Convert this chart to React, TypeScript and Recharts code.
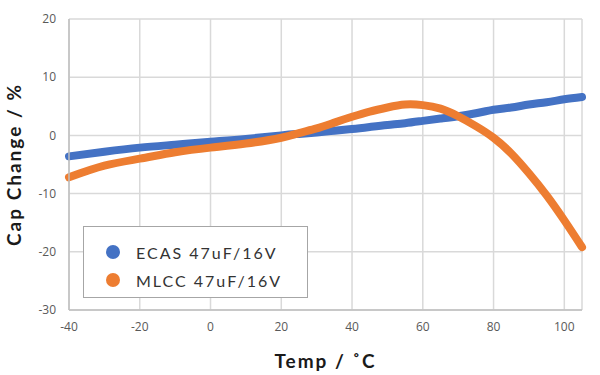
import { CartesianGrid, Legend, Line, LineChart, XAxis, YAxis } from 'recharts';

const temps = [-40, -30, -20, -10, 0, 10, 20, 25, 30, 35, 40, 45, 50, 55, 60, 65, 70, 75, 80, 85, 90, 95, 100, 105];
const ecas = [-3.6, -2.8, -2.1, -1.6, -1.1, -0.6, 0.0, 0.25, 0.5, 0.8, 1.1, 1.45, 1.8, 2.1, 2.5, 2.9, 3.3, 3.8, 4.4, 4.8, 5.3, 5.7, 6.2, 6.6];
const mlcc = [-7.2, -5.2, -4.0, -2.9, -2.1, -1.4, -0.4, 0.4, 1.2, 2.2, 3.2, 4.1, 4.8, 5.3, 5.2, 4.6, 3.3, 1.6, -0.4, -3.1, -6.5, -10.3, -14.6, -19.2];
const xTicks = [-40, -20, 0, 20, 40, 60, 80, 100];
const yTicks = [-30, -20, -10, 0, 10, 20];
const seriesNames = ['ECAS 47uF/16V', 'MLCC 47uF/16V'];
const colors = ['#4472c4', '#ed7d31'];

const data = temps.map((t, i) => ({ temp: t, ecas: ecas[i], mlcc: mlcc[i] }));

const tickStyle = { fill: '#595959', fontSize: 12, fontFamily: '"Open Sans", sans-serif' };
const titleStyle = { fill: '#1a1a1a', fontSize: 19, fontWeight: 700, fontFamily: 'Lato, sans-serif', letterSpacing: 2 };

function renderLegend() {
  return (
    <div
      style={{
        boxSizing: 'border-box',
        width: 225,
        height: 72,
        border: '1px solid #a6a6a6',
        background: '#fff',
        paddingTop: 11,
        paddingLeft: 22,
      }}
    >
      {seriesNames.map((name, i) => (
        <div key={name} style={{ display: 'flex', alignItems: 'center', height: 28 }}>
          <span
            style={{ width: 14, height: 14, borderRadius: 7, background: colors[i], display: 'inline-block', marginRight: 16 }}
          />
          <span style={{ fontFamily: 'Lato, sans-serif', fontSize: 16, letterSpacing: 2, color: '#333' }}>{name}</span>
        </div>
      ))}
    </div>
  );
}

export default function App() {
  return (
    <div style={{ position: 'absolute', left: 0, top: 0, width: 600, height: 375, background: '#fff' }}>
      <LineChart width={600} height={375} data={data} margin={{ top: 19, right: 18, left: 0, bottom: 0 }}>
        <CartesianGrid stroke="#d9d9d9" strokeWidth={1.5} />
        <XAxis
          dataKey="temp"
          type="number"
          domain={[-40, 105]}
          ticks={xTicks}
          height={65}
          tickLine={false}
          tickMargin={6}
          tick={tickStyle}
          axisLine={{ stroke: '#bfbfbf', strokeWidth: 1.5 }}
          label={{
            content: ({ viewBox }: any) => (
              <text x={viewBox.x + viewBox.width / 2} y={viewBox.y + 58} textAnchor="middle" style={titleStyle}>
                Temp / ˚C
              </text>
            ),
          }}
        />
        <YAxis
          type="number"
          domain={[-30, 20]}
          ticks={yTicks}
          width={69}
          tickLine={false}
          tickMargin={7}
          tick={tickStyle}
          axisLine={{ stroke: '#bfbfbf', strokeWidth: 1.5 }}
          label={{
            content: ({ viewBox }: any) => {
              const cx = 21;
              const cy = viewBox.y + viewBox.height / 2;
              return (
                <text x={cx} y={cy} transform={`rotate(-90 ${cx} ${cy})`} textAnchor="middle" style={titleStyle}>
                  Cap Change / %
                </text>
              );
            },
          }}
        />
        <Legend
          layout="vertical"
          align="center"
          verticalAlign="middle"
          content={renderLegend}
          wrapperStyle={{ left: 83, top: 226, width: 225, height: 72 }}
        />
        <Line
          type="natural"
          dataKey="ecas"
          name={seriesNames[0]}
          stroke={colors[0]}
          strokeWidth={8}
          strokeLinecap="round"
          dot={false}
          isAnimationActive={false}
        />
        <Line
          type="natural"
          dataKey="mlcc"
          name={seriesNames[1]}
          stroke={colors[1]}
          strokeWidth={8}
          strokeLinecap="round"
          dot={false}
          isAnimationActive={false}
        />
      </LineChart>
    </div>
  );
}
